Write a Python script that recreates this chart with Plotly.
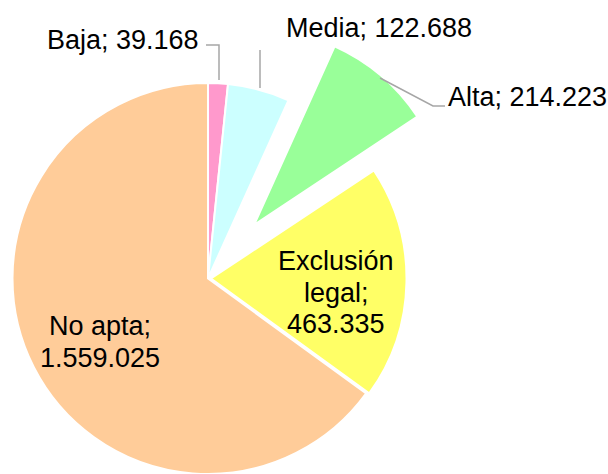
import plotly.graph_objects as go

categories = ["Baja", "Media", "Alta", "Exclusión legal", "No apta"]
values = [39168, 122688, 214223, 463335, 1559025]
colors = ["#FF99CC", "#CCFFFF", "#99FF99", "#FFFF66", "#FFCC99"]

W, H = 608, 474
CLEAR = "rgba(0,0,0,0)"


def fmt(v):
    return f"{v:,}".replace(",", ".")


def px(x, y):
    return x / W, 1 - y / H


# pie box in window pixels: left, top, size
BOX_L, BOX_T, BOX_S = 12.0, 83.0, 392.0
offsets = {"Alta": (46, -54), "Exclusión legal": (3, 0)}


def domain(dx=0.0, dy=0.0):
    x0 = (BOX_L + dx) / W
    x1 = (BOX_L + BOX_S + dx) / W
    y0 = max(0.0, 1 - (BOX_T + BOX_S + dy) / H)
    y1 = 1 - (BOX_T + dy) / H
    return dict(x=[x0, x1], y=[y0, y1])


def pie_trace(show, dom):
    cols = [c if cat in show else CLEAR for cat, c in zip(categories, colors)]
    lines = ["white" if cat in show else CLEAR for cat in categories]
    return go.Pie(
        labels=categories,
        values=values,
        sort=False,
        direction="clockwise",
        rotation=0,
        marker=dict(colors=cols, line=dict(color=lines, width=2)),
        textinfo="none",
        hoverinfo="skip",
        showlegend=False,
        domain=dom,
    )


fig = go.Figure()
main_show = [c for c in categories if c not in offsets]
fig.add_trace(pie_trace(main_show, domain()))
for cat, (dx, dy) in offsets.items():
    fig.add_trace(pie_trace([cat], domain(dx, dy)))

font = dict(family="Liberation Sans, Arial, sans-serif", size=27, color="black")
ann = []


def add_text(text, x, y, xanchor):
    xx, yy = px(x, y)
    ann.append(dict(text=text, x=xx, y=yy, xref="paper", yref="paper",
                    xanchor=xanchor, yanchor="middle", showarrow=False, font=font))


labels = {c: f"{c}; {fmt(v)}" for c, v in zip(categories, values)}
add_text(labels["Baja"], 201, 40, "right")
add_text(labels["Media"], 284, 28, "left")
add_text(labels["Alta"], 446, 97, "left")

# inside labels (one annotation per line)
excl_lines = ["Exclusión", "legal;", fmt(values[3])]
for i, t in enumerate(excl_lines):
    add_text(t, 336, 261 + i * 31.5, "center")
noapta_lines = ["No apta;", fmt(values[4])]
for i, t in enumerate(noapta_lines):
    add_text(t, 100, 326 + i * 32, "center")


def path(points):
    s = ""
    for i, (x, y) in enumerate(points):
        xx, yy = px(x, y)
        s += ("M" if i == 0 else "L") + f"{xx},{yy} "
    return s.strip()


line_style = dict(color="#A6A6A6", width=1.5)
shapes = [
    dict(type="path", xref="paper", yref="paper", path=path([(206, 45), (219, 45), (219, 80)]), line=line_style),
    dict(type="path", xref="paper", yref="paper", path=path([(260, 50), (260, 88)]), line=line_style),
    dict(type="path", xref="paper", yref="paper", path=path([(380, 78), (433, 106), (445, 106)]), line=line_style),
]

fig.update_layout(
    width=W, height=H,
    margin=dict(l=0, r=0, t=0, b=0),
    paper_bgcolor="white", plot_bgcolor="white",
    annotations=ann, shapes=shapes,
)

# remove the browser's default 8px body margin so the figure fills the window
fig.write_html("out.html", config={"displayModeBar": False},
               post_script="document.body.style.margin='0';")
